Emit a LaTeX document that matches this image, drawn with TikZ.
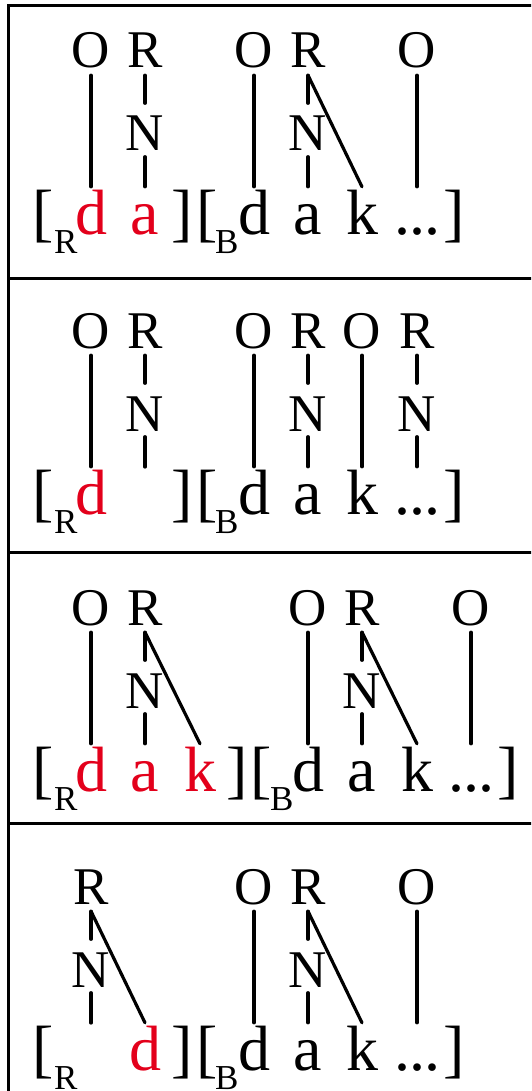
\documentclass[tikz,border=0pt]{standalone}
\usepackage{fontspec}
\setmainfont{Liberation Serif}
\usepackage{xcolor}
\usepackage{tikz}
\usetikzlibrary{positioning}
\definecolor{segred}{HTML}{E3001B}
\newcommand{\labsize}{\fontsize{53}{53}\selectfont}
\newcommand{\segsize}{\fontsize{64}{64}\selectfont}
\newcommand{\subsize}{\fontsize{35}{35}\selectfont}

\begin{document}
\begin{tikzpicture}[
  x=1pt, y=-1pt,
  lab/.style={font=\labsize, anchor=base, text height=35pt, text depth=0pt, inner xsep=0pt, inner ysep=7pt},
  nuc/.style={font=\labsize, anchor=base, text height=42pt, text depth=0pt, inner xsep=0pt, inner ysep=5.5pt},
  seg/.style={font=\segsize, anchor=base, text height=44pt, text depth=0pt, inner xsep=0pt, inner ysep=3pt},
  hot/.style={seg, text=segred},
  brk/.style={font=\segsize, anchor=base, inner sep=0pt},
  sub/.style={font=\subsize, anchor=base west, inner sep=0pt},
  link/.style={line width=3.2pt, line cap=round},
  rule/.style={line width=3pt}
]
  \useasboundingbox (0,0) rectangle (531,1091);
  \clip (0,0) rectangle (531,1091);
  \draw[rule] (8,6) rectangle (545,1100);
  \draw[rule] (8,278) -- (545,278);
  \draw[rule] (8,552) -- (545,552);
  \draw[rule] (8,823.5) -- (545,823.5);

  % panel 1
  \begin{scope}[shift={(0,68)}]
    \node[lab] (a-o1) at (91,0) {O};
    \node[lab] (a-r2) at (145,0) {R};
    \node[lab] (a-o4) at (254,0) {O};
    \node[lab] (a-r5) at (308,0) {R};
    \node[lab] (a-o7) at (417,0) {O};
    \node[nuc] (a-n2) at (145,83) {N};
    \node[nuc] (a-n5) at (308,83) {N};
    \node[brk] (a-lr) at (43.5,166) {[};
    \node[sub] (a-sr) at (54,185) {R};
    \node[hot] (a-d1) at (91,166) {d};
    \node[hot] (a-a2) at (145,166) {a};
    \node[brk] (a-rr) at (182,166) {]};
    \node[brk] (a-lb) at (207,166) {[};
    \node[sub] (a-sb) at (215,185) {B};
    \node[seg] (a-d4) at (254,166) {d};
    \node[seg] (a-a5) at (308,166) {a};
    \node[seg] (a-k6) at (362,166) {k};
    \node[seg] (a-x7) at (417,166) {.\kern-1pt.\kern-1pt.};
    \node[brk] (a-rb) at (454,166) {]};
    \draw[link] (a-o1.south) -- (a-d1.north);
    \draw[link] (a-r2.south) -- (a-n2.north);
    \draw[link] (a-n2.south) -- (a-a2.north);
    \draw[link] (a-o4.south) -- (a-d4.north);
    \draw[link] (a-r5.south) -- (a-n5.north);
    \draw[link] (a-n5.south) -- (a-a5.north);
    \draw[link] (a-r5.south) -- (a-k6.north);
    \draw[link] (a-o7.south) -- (a-x7.north);
  \end{scope}

  % panel 2
  \begin{scope}[shift={(0,348)}]
    \node[lab] (b-o1) at (91,0) {O};
    \node[lab] (b-r2) at (145,0) {R};
    \node[lab] (b-o4) at (254,0) {O};
    \node[lab] (b-r5) at (308,0) {R};
    \node[lab] (b-o6) at (362,0) {O};
    \node[lab] (b-r7) at (417,0) {R};
    \node[nuc] (b-n2) at (145,83) {N};
    \node[nuc] (b-n5) at (308,83) {N};
    \node[nuc] (b-n7) at (417,83) {N};
    \node[brk] (b-lr) at (43.5,166) {[};
    \node[sub] (b-sr) at (54,185) {R};
    \node[hot] (b-d1) at (91,166) {d};
    \coordinate (b-e2) at (145,119);
    \node[brk] (b-rr) at (182,166) {]};
    \node[brk] (b-lb) at (207,166) {[};
    \node[sub] (b-sb) at (215,185) {B};
    \node[seg] (b-d4) at (254,166) {d};
    \node[seg] (b-a5) at (308,166) {a};
    \node[seg] (b-k6) at (362,166) {k};
    \node[seg] (b-x7) at (417,166) {.\kern-1pt.\kern-1pt.};
    \node[brk] (b-rb) at (454,166) {]};
    \draw[link] (b-o1.south) -- (b-d1.north);
    \draw[link] (b-r2.south) -- (b-n2.north);
    \draw[link] (b-n2.south) -- (b-e2);
    \draw[link] (b-o4.south) -- (b-d4.north);
    \draw[link] (b-r5.south) -- (b-n5.north);
    \draw[link] (b-n5.south) -- (b-a5.north);
    \draw[link] (b-o6.south) -- (b-k6.north);
    \draw[link] (b-r7.south) -- (b-n7.north);
    \draw[link] (b-n7.south) -- (b-x7.north);
  \end{scope}

  % panel 3
  \begin{scope}[shift={(0,625)}]
    \node[lab] (c-o1) at (91,0) {O};
    \node[lab] (c-r2) at (145,0) {R};
    \node[lab] (c-o5) at (308,0) {O};
    \node[lab] (c-r6) at (362,0) {R};
    \node[lab] (c-o8) at (471,0) {O};
    \node[nuc] (c-n2) at (145,83) {N};
    \node[nuc] (c-n6) at (362,83) {N};
    \node[brk] (c-lr) at (43.5,166) {[};
    \node[sub] (c-sr) at (54,185) {R};
    \node[hot] (c-d1) at (91,166) {d};
    \node[hot] (c-a2) at (145,166) {a};
    \node[hot] (c-k3) at (200,166) {k};
    \node[brk] (c-rr) at (237,166) {]};
    \node[brk] (c-lb) at (261.5,166) {[};
    \node[sub] (c-sb) at (270,185) {B};
    \node[seg] (c-d5) at (308,166) {d};
    \node[seg] (c-a6) at (362,166) {a};
    \node[seg] (c-k7) at (417,166) {k};
    \node[seg] (c-x8) at (471,166) {.\kern-1pt.\kern-1pt.};
    \node[brk] (c-rb) at (508,166) {]};
    \draw[link] (c-o1.south) -- (c-d1.north);
    \draw[link] (c-r2.south) -- (c-n2.north);
    \draw[link] (c-n2.south) -- (c-a2.north);
    \draw[link] (c-r2.south) -- (c-k3.north);
    \draw[link] (c-o5.south) -- (c-d5.north);
    \draw[link] (c-r6.south) -- (c-n6.north);
    \draw[link] (c-n6.south) -- (c-a6.north);
    \draw[link] (c-r6.south) -- (c-k7.north);
    \draw[link] (c-o8.south) -- (c-x8.north);
  \end{scope}

  % panel 4
  \begin{scope}[shift={(0,904)}]
    \node[lab] (d-r1) at (91,0) {R};
    \node[lab] (d-o4) at (254,0) {O};
    \node[lab] (d-r5) at (308,0) {R};
    \node[lab] (d-o7) at (417,0) {O};
    \node[nuc] (d-n1) at (91,83) {N};
    \node[nuc] (d-n5) at (308,83) {N};
    \node[brk] (d-lr) at (43.5,166) {[};
    \node[sub] (d-sr) at (54,185) {R};
    \coordinate (d-e1) at (91,119);
    \node[hot] (d-d2) at (145,166) {d};
    \node[brk] (d-rr) at (182,166) {]};
    \node[brk] (d-lb) at (207,166) {[};
    \node[sub] (d-sb) at (215,185) {B};
    \node[seg] (d-d4) at (254,166) {d};
    \node[seg] (d-a5) at (308,166) {a};
    \node[seg] (d-k6) at (362,166) {k};
    \node[seg] (d-x7) at (417,166) {.\kern-1pt.\kern-1pt.};
    \node[brk] (d-rb) at (454,166) {]};
    \draw[link] (d-r1.south) -- (d-n1.north);
    \draw[link] (d-n1.south) -- (d-e1);
    \draw[link] (d-r1.south) -- (d-d2.north);
    \draw[link] (d-o4.south) -- (d-d4.north);
    \draw[link] (d-r5.south) -- (d-n5.north);
    \draw[link] (d-n5.south) -- (d-a5.north);
    \draw[link] (d-r5.south) -- (d-k6.north);
    \draw[link] (d-o7.south) -- (d-x7.north);
  \end{scope}
\end{tikzpicture}
\end{document}
